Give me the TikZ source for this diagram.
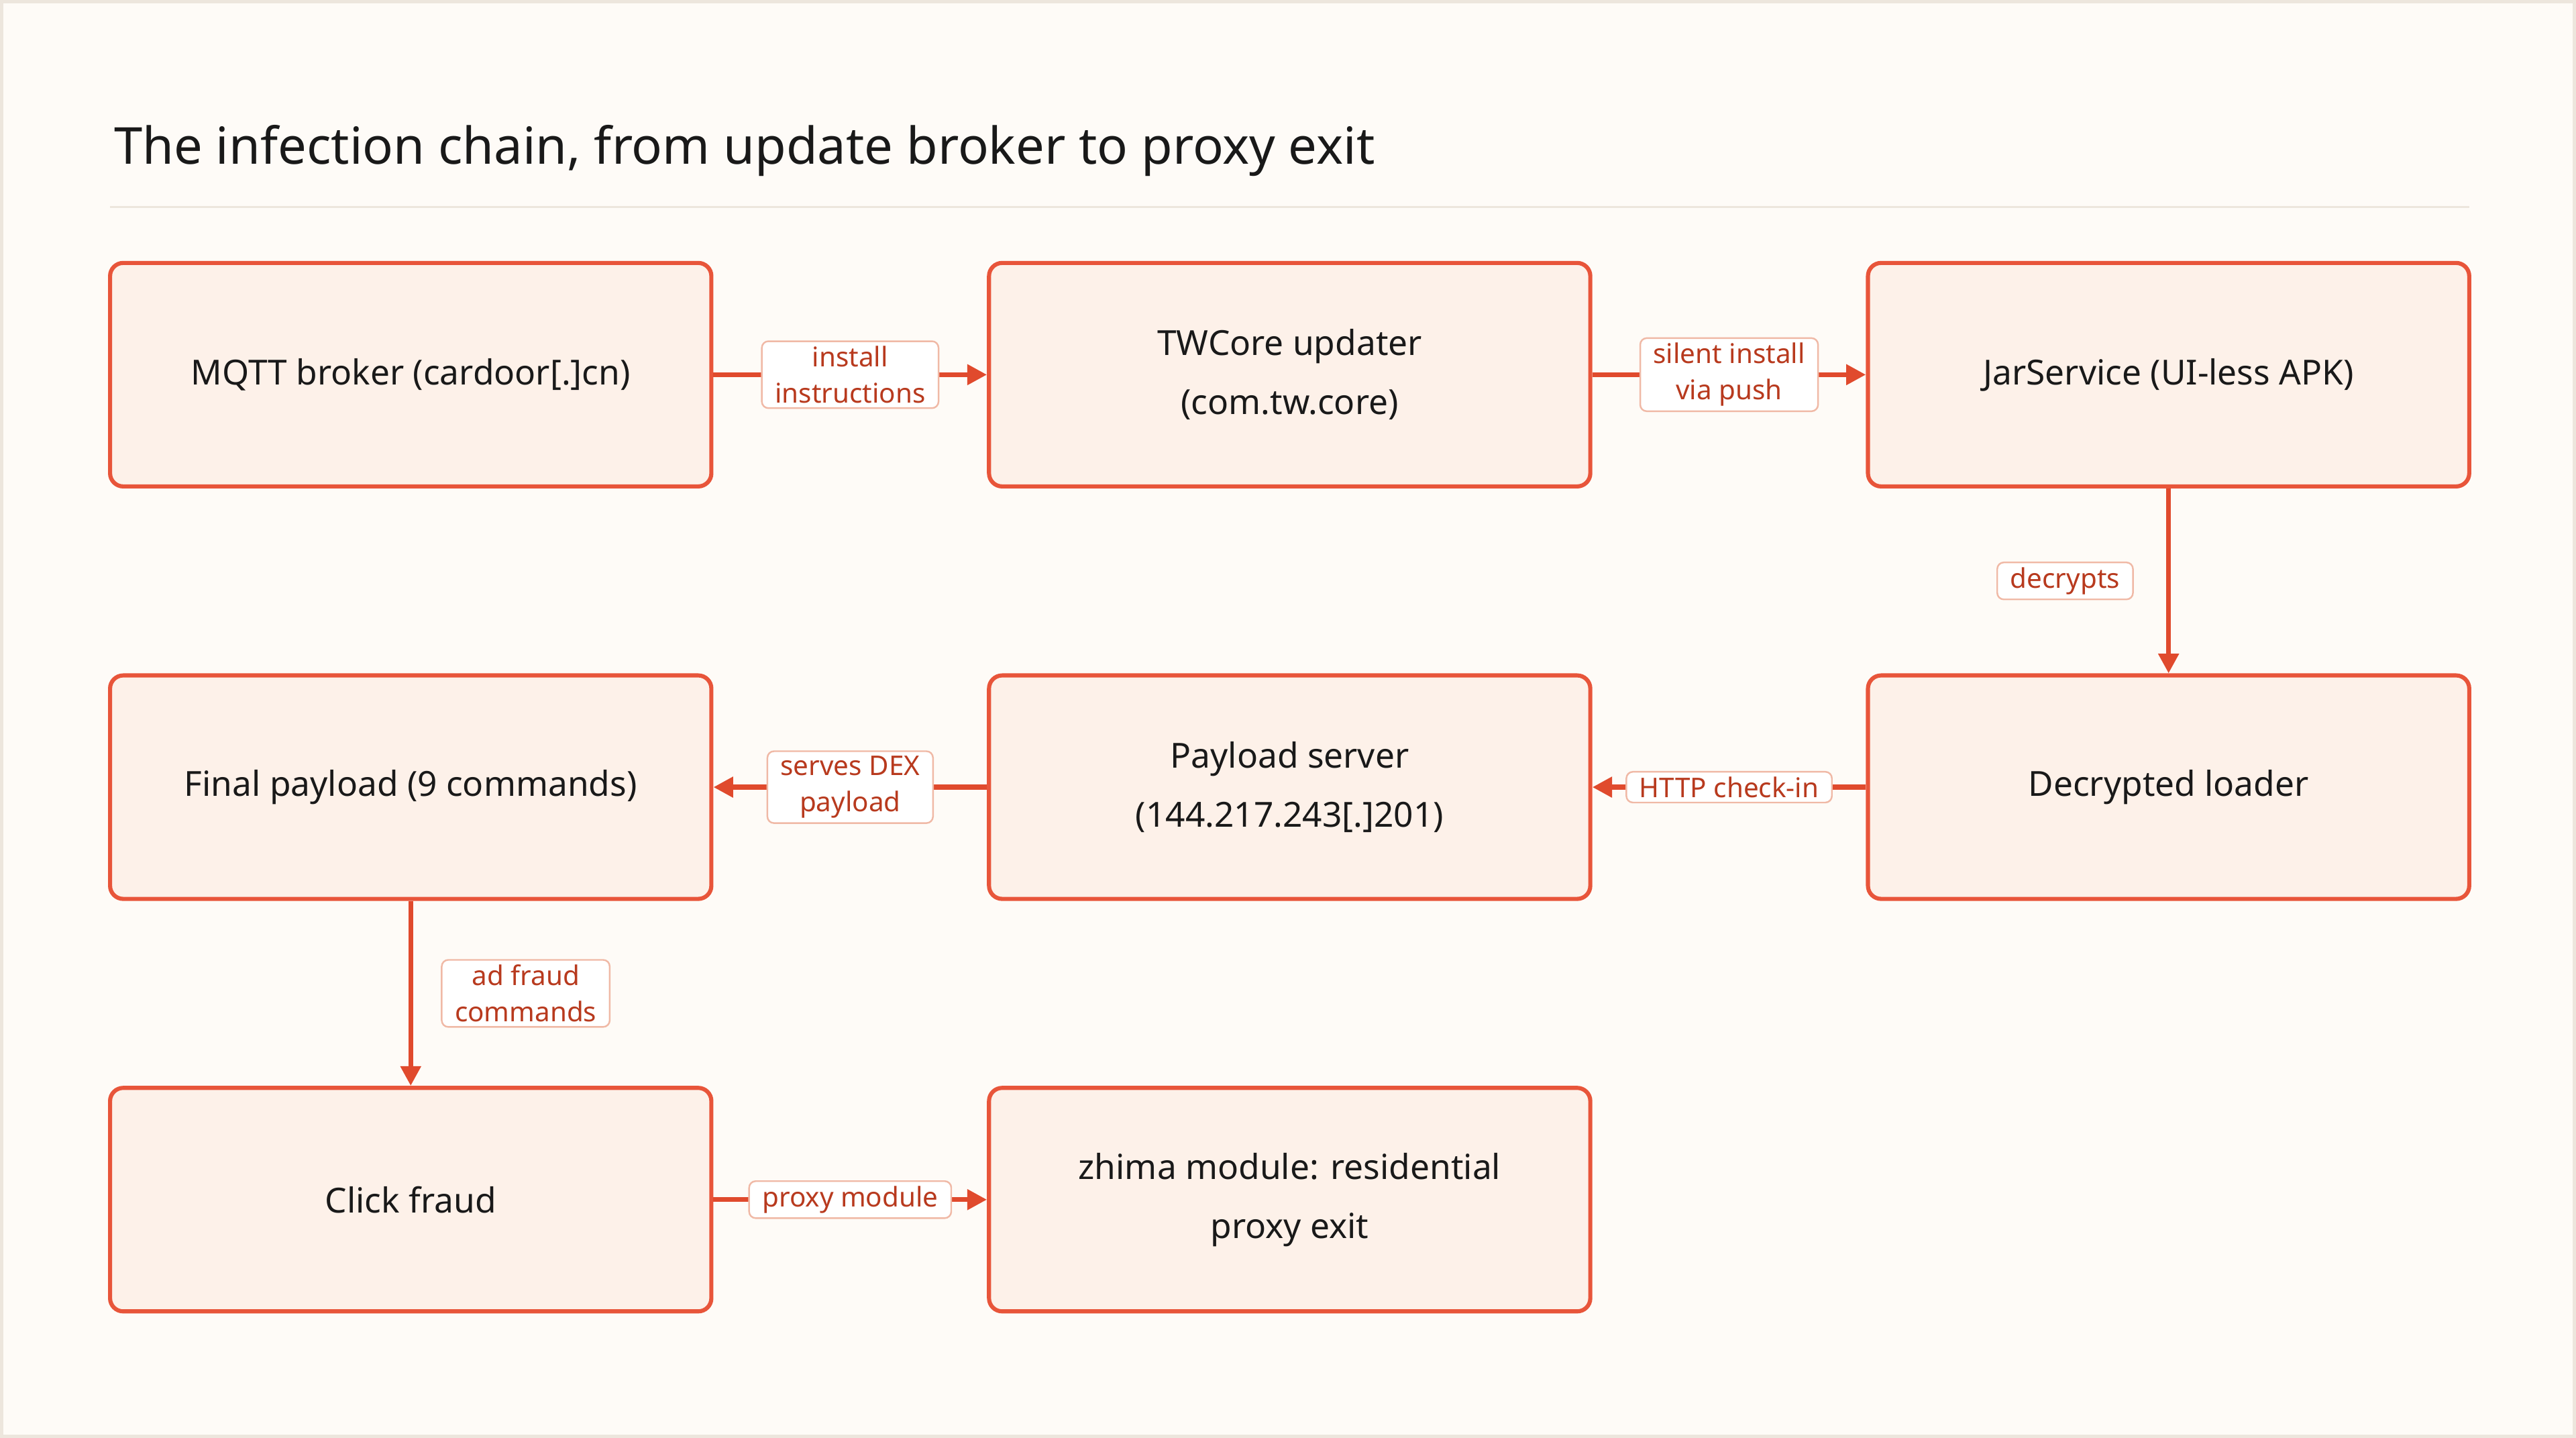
\documentclass[tikz,border=0pt]{standalone}
\usepackage{fontspec}
\setmainfont{Noto Sans}
\usetikzlibrary{arrows.meta}
\definecolor{bg}{HTML}{FEFBF7}
\definecolor{frame}{HTML}{EDE6DD}
\definecolor{boxfill}{HTML}{FDF1E9}
\definecolor{boxline}{HTML}{E8553A}
\definecolor{arr}{HTML}{E04A2D}
\definecolor{lbl}{HTML}{B83A1E}
\definecolor{lblline}{HTML}{F0B9A6}
\begin{document}
\begin{tikzpicture}[x=1pt,y=-1pt,
 box/.style={draw=boxline,line width=2.5pt,fill=boxfill,rounded corners=8pt,minimum width=366pt,minimum height=136pt,anchor=center,align=center,font=\fontsize{21}{36}\selectfont\bfseries,text=black!90},
 lab/.style={draw=lblline,line width=1pt,fill=white,rounded corners=4pt,align=center,font=\fontsize{16.5}{22}\selectfont\bfseries,text=lbl,inner xsep=8pt,inner ysep=3pt},
 con/.style={draw=arr,line width=3pt,-{Triangle[length=12pt,width=12pt]}}]
\fill[bg,draw=frame,line width=2pt] (1,1) rectangle (1567,874);
\useasboundingbox (0,0) rectangle (1568,875);
\node[anchor=base west,font=\fontsize{31}{36}\selectfont\bfseries,text=black!90] (title) at (66,100) {The infection chain, from update broker to proxy exit};
\draw[frame,line width=1.5pt] (67,126) -- (1503,126);
\node[box] (mqtt) at (250,228) {MQTT broker (cardoor[.]cn)};
\node[box] (tw) at (785,228) {TWCore updater\\(com.tw.core)};
\node[box] (jar) at (1320,228) {JarService (UI-less APK)};
\node[box] (fin) at (250,479) {Final payload (9 commands)};
\node[box] (pay) at (785,479) {Payload server\\(144.217.243[.]201)};
\node[box] (dec) at (1320,479) {Decrypted loader};
\node[box] (click) at (250,730) {Click fraud};
\node[box] (zh) at (785,730) {zhima module: residential\\proxy exit};
\draw[con] (mqtt) -- node[lab]{install\\instructions} (tw);
\draw[con] (tw) -- node[lab]{silent install\\via push} (jar);
\draw[con] (jar) -- node[lab,pos=0.5,xshift=-63pt]{decrypts} (dec);
\draw[con] (dec) -- node[lab]{HTTP check-in} (pay);
\draw[con] (pay) -- node[lab]{serves DEX\\payload} (fin);
\draw[con] (fin) -- node[lab,xshift=70pt]{ad fraud\\commands} (click);
\draw[con] (click) -- node[lab]{proxy module} (zh);
\end{tikzpicture}
\end{document}
